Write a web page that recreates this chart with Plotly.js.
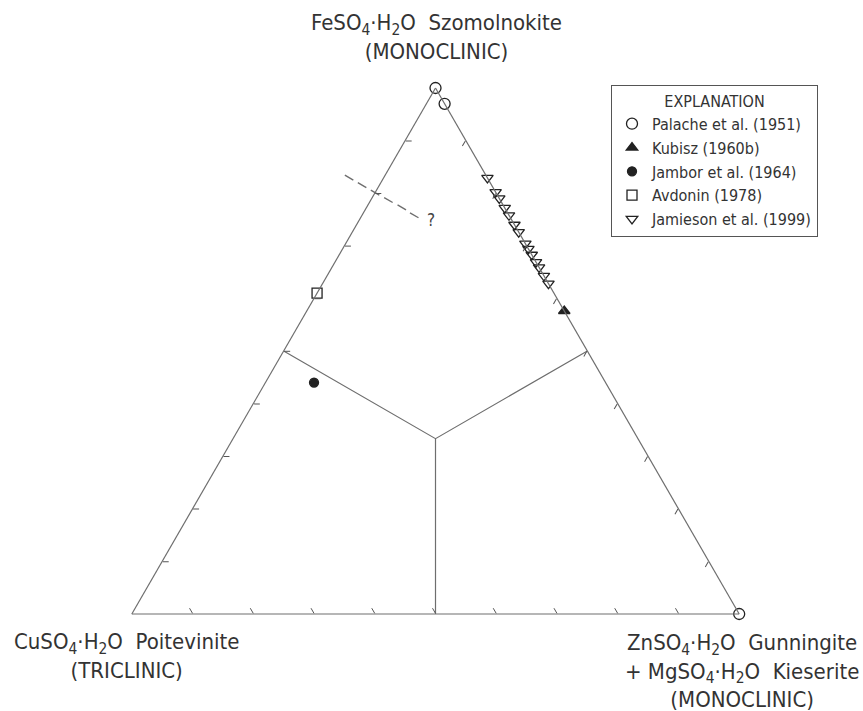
<!DOCTYPE html>
<html>
<head>
<meta charset="utf-8">
<script src="https://cdn.plot.ly/plotly-3.0.1.min.js"></script>
<style>
  html, body { margin: 0; padding: 0; background: #fff; }
  #chart { width: 863px; height: 711px; }
</style>
</head>
<body>
<div id="chart"></div>
<script>
document.addEventListener('DOMContentLoaded', function () {
    // compositions as fractions: Fe (top), Cu (left), Zn+Mg (right)
    const palacheFe = [1.00, 0.97, 0.00];
    const palacheCu = [0.00, 0.00, 0.00];
    const palacheZn = [0.00, 0.03, 1.00];

    const kubiszFe = [0.576];
    const kubiszCu = [0.00];
    const kubiszZn = [0.424];

    const jamborFe = [0.44];
    const jamborCu = [0.48];
    const jamborZn = [0.08];

    const avdoninFe = [0.61];
    const avdoninCu = [0.39];
    const avdoninZn = [0.00];

    const jamiesonFe = [0.829, 0.802, 0.790, 0.772, 0.758, 0.740, 0.726, 0.704, 0.694, 0.683, 0.669, 0.659, 0.643, 0.628];
    const jamiesonCu = [0, 0, 0, 0, 0, 0, 0, 0, 0, 0, 0, 0, 0, 0];
    const jamiesonZn = [0.171, 0.198, 0.210, 0.228, 0.242, 0.260, 0.274, 0.296, 0.306, 0.317, 0.331, 0.341, 0.357, 0.372];

    // phase boundaries: side midpoints joined at the centre
    const fieldFe = [0.5, 1/3, 0.5, null, 1/3, 0.0];
    const fieldCu = [0.5, 1/3, 0.0, null, 1/3, 0.5];
    const fieldZn = [0.0, 1/3, 0.5, null, 1/3, 0.5];

    // uncertain boundary crossing the Fe-Cu side, one entry per dash.
    // plotly hides ternary points outside the triangle, so the two dashes
    // beyond the side sit on the crossing point and are pushed out by standoff
    const dashFe = [0.801, 0.801, 0.801, 0.787, 0.773, 0.758];
    const dashCu = [0.199, 0.199, 0.199, 0.184, 0.169, 0.156];
    const dashZn = [0.000, 0.000, 0.000, 0.029, 0.058, 0.086];
    const dashStandoff = [30, 15, 0, 0, 0, 0];
    const queryFe = [0.746];
    const queryCu = [0.141];
    const queryZn = [0.113];

    const font = 'DejaVu Sans Condensed, Liberation Sans Narrow, Arial Narrow, sans-serif';
    const ink = '#222';
    const lineGray = '#6e6e6e';

    const boundaries = {
        type: 'scatterternary', mode: 'lines',
        a: fieldFe, b: fieldCu, c: fieldZn,
        line: {color: lineGray, width: 1.2},
        connectgaps: false, showlegend: false, hoverinfo: 'skip'
    };

    const dashed = {
        type: 'scatterternary', mode: 'markers',
        a: dashFe, b: dashCu, c: dashZn,
        marker: {
            symbol: 'line-ns', size: 7, angle: 120, standoff: dashStandoff,
            color: lineGray, line: {color: lineGray, width: 1.4}
        },
        cliponaxis: false, showlegend: false, hoverinfo: 'skip'
    };

    const query = {
        type: 'scatterternary', mode: 'text',
        a: queryFe, b: queryCu, c: queryZn,
        text: ['?'], textposition: 'middle right',
        textfont: {family: font, size: 17, color: '#444'},
        cliponaxis: false, showlegend: false, hoverinfo: 'skip'
    };

    const series = [
        {name: 'Palache et al. (1951)', a: palacheFe, b: palacheCu, c: palacheZn, symbol: 'circle-open', size: 11},
        {name: 'Kubisz (1960b)', a: kubiszFe, b: kubiszCu, c: kubiszZn, symbol: 'triangle-up', size: 10},
        {name: 'Jambor et al. (1964)', a: jamborFe, b: jamborCu, c: jamborZn, symbol: 'circle', size: 9},
        {name: 'Avdonin (1978)', a: avdoninFe, b: avdoninCu, c: avdoninZn, symbol: 'square-open', size: 10},
        {name: 'Jamieson et al. (1999)', a: jamiesonFe, b: jamiesonCu, c: jamiesonZn, symbol: 'triangle-down-open', size: 10}
    ].map(s => ({
        type: 'scatterternary', mode: 'markers', name: s.name,
        a: s.a, b: s.b, c: s.c,
        marker: {symbol: s.symbol, size: s.size, color: ink, line: {color: ink, width: 1.3}},
        cliponaxis: false
    }));

    const axis = {
        title: {text: ''},
        showticklabels: false,
        showgrid: false,
        ticks: 'inside',
        ticklen: 6,
        tickwidth: 1,
        tickcolor: '#555',
        tick0: 0,
        dtick: 0.1,
        linecolor: lineGray,
        linewidth: 1.2
    };

    const layout = {
        width: 863,
        height: 711,
        margin: {l: 0, r: 0, t: 0, b: 0},
        paper_bgcolor: '#fff',
        font: {family: font, color: '#333'},
        ternary: {
            domain: {x: [131 / 863, 740 / 863], y: [97 / 711, 623 / 711]},
            bgcolor: '#fff',
            sum: 1,
            aaxis: axis,
            baxis: axis,
            caxis: axis
        },
        showlegend: true,
        legend: {
            x: 611 / 863, y: 1 - 85 / 711,
            xanchor: 'left', yanchor: 'top',
            bordercolor: '#555', borderwidth: 1,
            bgcolor: '#fff',
            font: {family: font, size: 16, color: '#333'},
            title: {text: 'EXPLANATION', side: 'top center', font: {family: font, size: 16, color: '#333'}},
            tracegroupgap: 0
        },
        annotations: [
            {
                text: 'FeSO<sub>4</sub>·H<sub>2</sub>O\u00a0 Szomolnokite<br>(MONOCLINIC)',
                x: 437 / 863, y: 1 - 37 / 711, xref: 'paper', yref: 'paper',
                xanchor: 'center', yanchor: 'middle', showarrow: false,
                font: {family: font, size: 22, color: '#333'}
            },
            {
                text: 'CuSO<sub>4</sub>·H<sub>2</sub>O\u00a0 Poitevinite<br>(TRICLINIC)',
                x: 126 / 863, y: 1 - 656 / 711, xref: 'paper', yref: 'paper',
                xanchor: 'center', yanchor: 'middle', showarrow: false,
                font: {family: font, size: 22, color: '#333'}
            },
            {
                text: 'ZnSO<sub>4</sub>·H<sub>2</sub>O\u00a0 Gunningite<br>+ MgSO<sub>4</sub>·H<sub>2</sub>O\u00a0 Kieserite<br>(MONOCLINIC)',
                x: 742 / 863, y: 1 - 671 / 711, xref: 'paper', yref: 'paper',
                xanchor: 'center', yanchor: 'middle', showarrow: false,
                font: {family: font, size: 22, color: '#333'}
            }
        ]
    };

    Plotly.newPlot('chart', [boundaries, dashed, query].concat(series), layout, {staticPlot: true});
});
</script>
</body>
</html>
